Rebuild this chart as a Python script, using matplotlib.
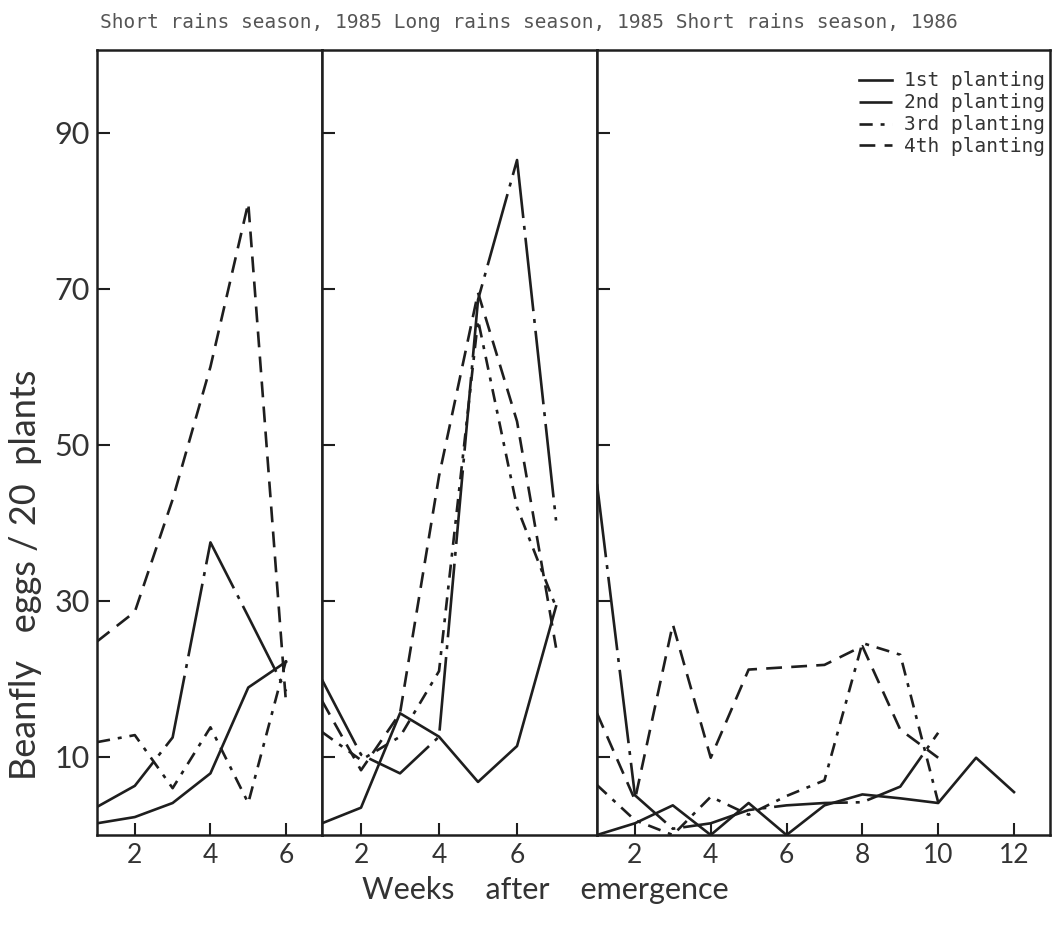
import matplotlib
matplotlib.use("Agg")
import matplotlib.pyplot as plt

# Weekly beanfly egg counts per 20 plants, one list per planting and season
weeks_1 = [1, 2, 3, 4, 5, 6]
sr85_first = [1.5, 2.3, 4.1, 7.9, 18.9, 22.2]
sr85_second = [3.6, 6.3, 12.5, 37.5, 28.0, 18.4]
sr85_third = [11.9, 12.8, 6.0, 13.8, 4.1, 22.4]
sr85_fourth = [24.8, 28.6, 43.0, 60.0, 81.0, 16.8]

weeks_2 = [1, 2, 3, 4, 5, 6, 7]
lr85_first = [1.5, 3.5, 15.6, 12.6, 6.8, 11.4, 29.3]
lr85_second = [19.9, 10.3, 7.9, 12.6, 68.6, 86.5, 40.3]
lr85_third = [13.2, 9.6, 12.6, 21.0, 66.0, 42.0, 29.2]
lr85_fourth = [17.2, 8.3, 15.6, 46.0, 69.5, 53.0, 24.0]

weeks_3 = [1, 2, 3, 4, 5, 6, 7, 8, 9, 10, 11, 12]
sr86_first = [0.0, 1.5, 3.8, 0.0, 4.1, 0.0, 3.8, 5.2, 4.7, 4.1, 9.9, 5.5]
sr86_second = [45.0, 5.1, 0.8, 1.5, 3.2, 3.8, 4.1, 4.2, 6.2, 13.1]
sr86_third = [6.4, 1.9, 0.0, 4.9, 2.6, 5.0, 7.0, 24.6, 23.1, 4.2]
sr86_fourth = [15.6, 4.5, 27.0, 9.9, 21.2, 21.5, 21.8, 24.2, 13.5, 9.9]

season_titles = "Short rains season, 1985 Long rains season, 1985 Short rains season, 1986"
planting_labels = ["1st planting", "2nd planting", "3rd planting", "4th planting"]
y_ticks = [10, 30, 50, 70, 90]

styles = ["-", (0, (28, 3, 1.5, 3)), (0, (5, 3, 1.5, 3)), (0, (6, 3.5))]
ink = "#1e1e1e"

plt.rcParams["font.family"] = ["Lato", "DejaVu Sans"]

fig = plt.figure(figsize=(10.62, 9.27), dpi=100)
W, H = 1062, 927
bottom, top = 835, 50

panels = [
    (97, 322, (1, 6.95), weeks_1, [sr85_first, sr85_second, sr85_third, sr85_fourth], [2, 4, 6]),
    (322, 597, (1, 8.05), weeks_2, [lr85_first, lr85_second, lr85_third, lr85_fourth], [2, 4, 6]),
    (597, 1050, (1, 12.95), weeks_3, [sr86_first, sr86_second, sr86_third, sr86_fourth],
     [2, 4, 6, 8, 10, 12]),
]

axes = []
for i, (x0, x1, xlim, weeks, series, xt) in enumerate(panels):
    ax = fig.add_axes([x0 / W, 1 - bottom / H, (x1 - x0) / W, (bottom - top) / H])
    for s, ls, lab in zip(series, styles, planting_labels):
        ax.plot(weeks[:len(s)], s, linestyle=ls, color=ink, linewidth=1.9, label=lab)
    ax.set_xlim(*xlim)
    ax.set_ylim(0, 100.6)
    ax.set_xticks(xt)
    ax.set_yticks(y_ticks)
    ax.tick_params(direction="in", length=9, width=1.5, colors=ink, labelcolor="#333333")
    ax.tick_params(axis="x", labelsize=19, pad=6)
    ax.tick_params(axis="y", labelsize=22, pad=5)
    if i > 0:
        ax.tick_params(axis="y", labelleft=False)
    for sp in ax.spines.values():
        sp.set_linewidth(1.8)
        sp.set_color(ink)
    axes.append(ax)

fig.text(26 / W, 1 - 575 / H, "Beanfly   eggs / 20  plants", fontsize=26, color="#333333",
         rotation=90, ha="center", va="center")
fig.text(545 / W, 1 - 890 / H, "Weeks    after    emergence", fontsize=22, color="#333333",
         ha="center", va="center")

fig.text(529 / W, 1 - 22 / H, season_titles, family="DejaVu Sans Mono", fontsize=14,
         color="#555555", ha="center", va="center")

axes[2].legend(loc="upper right", bbox_to_anchor=(1.01, 0.985), frameon=False,
               prop={"family": "DejaVu Sans Mono", "size": 14}, handlelength=1.7,
               handletextpad=0.6, labelspacing=0.15, borderaxespad=0.1, labelcolor="#333333")

plt.savefig("out.png", dpi=100)
